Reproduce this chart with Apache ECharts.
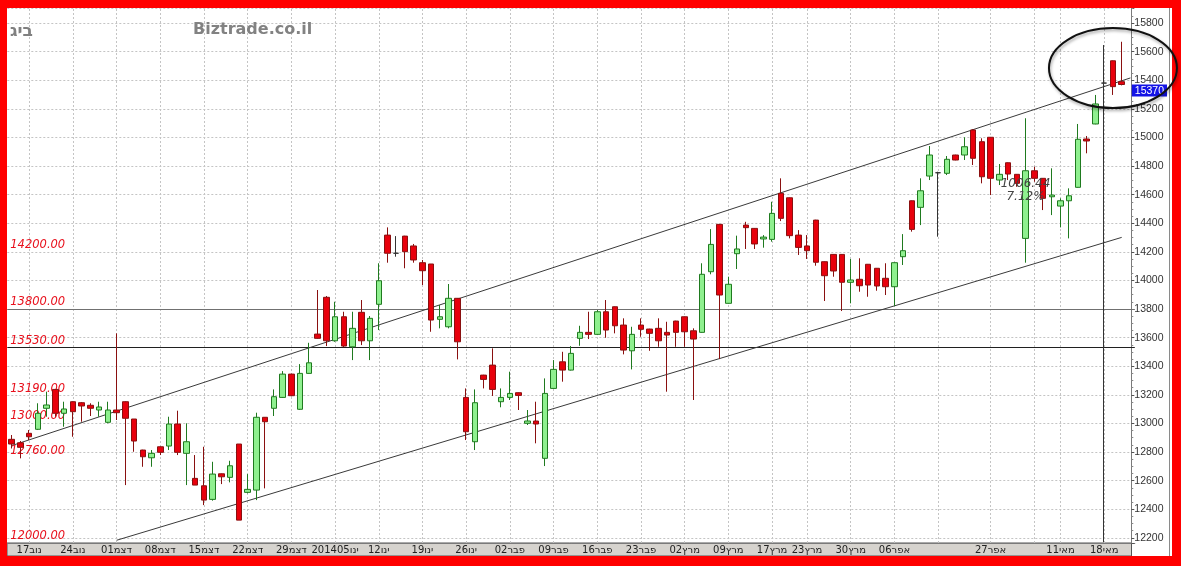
<!DOCTYPE html>
<html>
<head>
<meta charset="utf-8">
<script src="https://cdn.jsdelivr.net/npm/echarts@6/dist/echarts.min.js"></script>
<style>html,body{margin:0;padding:0;background:#fff}#c{width:1181px;height:566px}</style>
</head>
<body>
<div id="c"></div>
<script>
// ---- data (one entry per trading day) ----
const opens  = [12889,12865,12931,12959,13106,13238,13071,13152,13145,13127,13094,13008,13094,13152,13031,12814,12760,12837,12842,12996,12791,12616,12564,12469,12648,12623,12856,12518,12534,13043,13106,13182,13345,13099,13350,13625,13882,13578,13746,13536,13777,13578,13833,14317,14190,14310,14241,14124,14115,13728,13676,13875,13182,12872,13338,13408,13152,13182,13215,13001,13017,12756,13245,13431,13373,13595,13637,13623,13781,13816,13688,13508,13688,13660,13665,13637,13716,13746,13648,13637,14061,14392,13840,14187,14387,14364,14290,14287,14609,14578,14317,14241,14422,14131,14182,14182,13987,14008,14113,14085,14015,13956,14166,14557,14511,14730,14753,14749,14877,14877,15052,14970,15001,14702,14823,14742,14294,14767,14714,14585,14520,14557,14651,14989,15094,15380,15536,15390];
const closes = [12856,12833,12907,13071,13129,13071,13101,13082,13122,13106,13115,13094,13075,13036,12877,12767,12791,12798,12996,12798,12872,12569,12464,12646,12627,12704,12324,12539,13043,13012,13187,13345,13194,13350,13424,13595,13578,13746,13541,13665,13578,13735,13998,14190,14190,14201,14143,14068,13723,13746,13875,13571,12942,13145,13308,13238,13182,13210,13196,13017,12996,13210,13378,13373,13490,13637,13623,13781,13653,13683,13513,13623,13658,13630,13578,13618,13637,13641,13590,14043,14252,13898,13973,14220,14369,14255,14303,14469,14434,14313,14231,14208,14127,14033,14066,13987,14003,13963,13968,13961,13956,14124,14208,14357,14627,14877,14753,14847,14842,14935,14854,14725,14714,14742,14744,14679,14767,14714,14574,14597,14557,14592,14987,14975,15234,15380,15355,15370];
const lows   = [12825,12756,12884,12954,13047,13047,12977,12907,13012,13052,13047,13001,13024,12569,12802,12697,12697,12779,12814,12779,12569,12569,12429,12460,12576,12588,12324,12511,12464,12546,13052,13178,13190,13094,13348,13592,13541,13571,13532,13443,13548,13443,13653,14124,14166,14085,14124,13968,13641,13665,13665,13448,12884,12814,13245,13192,13113,13164,13094,12989,12861,12702,13243,13292,13370,13543,13590,13618,13599,13630,13483,13378,13606,13508,13536,13222,13536,13536,13164,13635,14043,13450,13838,14080,14220,14220,14229,14271,14415,14294,14178,14150,14103,13856,14026,13786,13840,13921,13886,13928,13898,13821,14108,14341,14387,14702,14306,14737,14840,14842,14807,14679,14597,14667,14702,14655,14124,14690,14492,14457,14371,14294,14649,14889,15092,12170,15297,15364];
const highs  = [12919,12877,12954,13141,13222,13240,13152,13155,13150,13141,13152,13152,13630,13155,13031,12816,12814,12840,13047,13089,13001,12779,12837,12732,12650,12739,12856,12646,13075,13045,13238,13366,13348,13415,13564,13933,13891,13851,13781,13781,13863,13751,14120,14371,14310,14312,14255,14143,14115,13828,13975,13877,13245,13238,13340,13525,13245,13362,13217,13094,13152,13315,13443,13501,13541,13683,13781,13793,13863,13818,13735,13676,13735,13662,13735,13711,13718,13748,13665,14120,14359,14395,14026,14313,14410,14366,14317,14550,14714,14580,14352,14317,14424,14133,14184,14184,14150,14155,14115,14087,14120,14126,14324,14559,14714,14940,14760,14870,14879,15001,15057,14994,15003,14814,14825,14744,15134,14795,14716,14784,14574,14644,15094,15010,15297,15646,15538,15669];

// week-start positions (index of trading day) and their labels
const weekIndex  = [2,7,12,17,22,27,32,37,42,47,52,57,62,67,72,77,82,87,91,96,101,106,112,117,120,125];
const weekLabels = ['17נוב','24נוב','01דצמ','08דצמ','15דצמ','22דצמ','29דצמ','201405ינו','12ינו','19ינו','26ינו','02פבר','09פבר','16פבר','23פבר','02מרץ','09מרץ','17מרץ','23מרץ','30מרץ','06אפר','','27אפר','','11מאי','18מאי'];

// price levels drawn on the chart
const levelValues = [14200, 13800, 13530, 13190, 13000, 12760, 12000];
const levelDrawn  = [false, true, true, false, false, false, false];

// trend channel: [startIndex, startPrice, endIndex, endPrice]
const upperChannel = [0, 12845, 128, 15416];
const lowerChannel = [12, 12183, 127, 14301];

const lastPrice = 15370;
const measureText = ['1006.44', '7.12%'];
const measurePos = [[116, 14676], [116, 14584]];

const yMin = 12164, yMax = 15905;

// ---- build ----
const N = opens.length;
const categories = [];
for (let i = 0; i <= N; i++) categories.push(String(i));
const labelAt = {};
weekIndex.forEach((w, k) => { labelAt[w] = weekLabels[k]; });

const candleData = opens.map((o, i) => {
  const item = { value: [o, closes[i], lows[i], highs[i]] };
  if (o === closes[i]) item.itemStyle = { color: '#333', color0: '#333', borderColor: '#333', borderColor0: '#333' };
  return item;
});

const hiddenLine = { color: 'rgba(0,0,0,0)', width: 1, type: 'solid' };
const levelLabel = {
  show: true, position: 'insideStartTop', distance: [3, 1],
  color: '#e8101c', fontStyle: 'italic', fontSize: 11.5, fontFamily: 'DejaVu Sans'
};
const levelLines = levelValues.map((v, k) => ({
  yAxis: Math.min(Math.max(v, yMin), yMax),
  label: Object.assign({}, levelLabel, { formatter: v.toFixed(2) }),
  lineStyle: levelDrawn[k] ? { color: k === 1 ? '#707070' : '#202020', width: 1.2, type: 'solid' } : hiddenLine
}));

const channelStyle = { color: '#3a3a3a', width: 1, type: 'solid' };
const channels = [upperChannel, lowerChannel].map(c => [
  { coord: [c[0], c[1]], lineStyle: channelStyle, label: { show: false } },
  { coord: [c[2], c[3]] }
]);

const chart = echarts.init(document.getElementById('c'));
const option = {
  backgroundColor: '#ffffff',
  animation: false,
  textStyle: { fontFamily: 'DejaVu Sans' },
  grid: { left: 7.3, right: 46.2, top: 8, bottom: 23 },
  xAxis: {
    type: 'category', data: categories, boundaryGap: true,
    axisLine: { show: true, lineStyle: { color: '#7a7a7a' } },
    axisTick: { show: false },
    splitLine: { show: false },
    axisLabel: {
      interval: (idx) => labelAt[idx] !== undefined && labelAt[idx] !== '',
      formatter: (val, idx) => labelAt[idx] || '',
      fontSize: 10, color: '#222', margin: 2, fontFamily: 'DejaVu Sans'
    }
  },
  yAxis: {
    type: 'value', position: 'right', offset: -3.5,
    min: yMin, max: yMax, splitNumber: 18,
    axisLine: { show: true, lineStyle: { color: '#7a7a7a' } },
    axisTick: { show: true, length: 3, lineStyle: { color: '#555' } },
    minorTick: { show: true, splitNumber: 4, length: 2, lineStyle: { color: '#888' } },
    axisLabel: { fontSize: 10.5, color: '#333', margin: 3, fontFamily: 'Liberation Sans', showMinLabel: false, showMaxLabel: false, formatter: (v) => String(v) },
    splitLine: { show: true, lineStyle: { color: '#c4c4c4', type: [2, 2], width: 1 } }
  },
  series: [
    {
      type: 'line', data: [], silent: true,
      markLine: {
        silent: true, symbol: 'none', z: 1, animation: false,
        label: { show: false },
        lineStyle: { color: '#c4c4c4', type: [2, 2], width: 1 },
        data: weekIndex.map(w => ({ xAxis: w }))
      }
    },
    {
      type: 'candlestick', data: candleData, barWidth: 6, z: 3,
      itemStyle: { color: '#8ff08f', color0: '#e8000c', borderColor: '#1f7a1f', borderColor0: '#8a1010', borderWidth: 1 },
      markLine: {
        silent: true, symbol: 'none', animation: false, z: 2,
        data: levelLines.concat(channels).concat([{
          yAxis: lastPrice,
          lineStyle: hiddenLine,
          label: { show: true, position: 'end', distance: -3, formatter: String(lastPrice), color: '#ffffff', backgroundColor: '#1414e6', padding: [1, 3, 0, 3], fontSize: 10.5, fontFamily: 'Liberation Sans', verticalAlign: 'top' }
        }])
      },
      markPoint: {
        silent: true, symbol: 'rect', symbolSize: 0, animation: false,
        label: { show: true, position: 'inside', formatter: '{b}', color: '#444', fontStyle: 'italic', fontSize: 12, fontFamily: 'DejaVu Sans' },
        data: measureText.map((t, k) => ({ name: t, coord: measurePos[k] }))
      }
    }
  ],
  graphic: [
    { type: 'rect', z: -1, shape: { x: 7, y: 543, width: 1124.5, height: 13 }, style: { fill: '#d6d3ce', stroke: '#555', lineWidth: 1 } },
    { type: 'line', z: 50, shape: { x1: 1169.5, y1: 8, x2: 1169.5, y2: 556 }, style: { stroke: '#8a8a8a', lineWidth: 1 } },
    { type: 'text', z: 50, left: 10, top: 23, style: { text: 'ביג', fill: '#808080', font: 'bold 17px "DejaVu Sans"' } },
    { type: 'text', z: 50, left: 193, top: 22, style: { text: 'Biztrade.co.il', fill: '#828282', font: 'bold 16px "DejaVu Sans"' } },
    { type: 'rect', z: 100, shape: { x: 0, y: 0, width: 1181, height: 8 }, style: { fill: '#ff0000' } },
    { type: 'rect', z: 100, shape: { x: 0, y: 0, width: 7, height: 566 }, style: { fill: '#ff0000' } },
    { type: 'rect', z: 100, shape: { x: 1172, y: 0, width: 9, height: 566 }, style: { fill: '#ff0000' } },
    { type: 'rect', z: 100, shape: { x: 0, y: 556, width: 1181, height: 10 }, style: { fill: '#ff0000' } }
  ]
};
chart.setOption(option);

// circle annotation around the last candles
const ctr = chart.convertToPixel({ gridIndex: 0 }, [126, 15485]);
chart.setOption({
  graphic: option.graphic.concat([
    { type: 'ellipse', z: 120, shape: { cx: ctr[0], cy: ctr[1], rx: 64, ry: 40 },
      style: { fill: null, stroke: '#111', lineWidth: 2, shadowBlur: 3, shadowColor: 'rgba(0,0,0,0.35)', shadowOffsetX: 1, shadowOffsetY: 2 } }
  ])
});
</script>
</body>
</html>
